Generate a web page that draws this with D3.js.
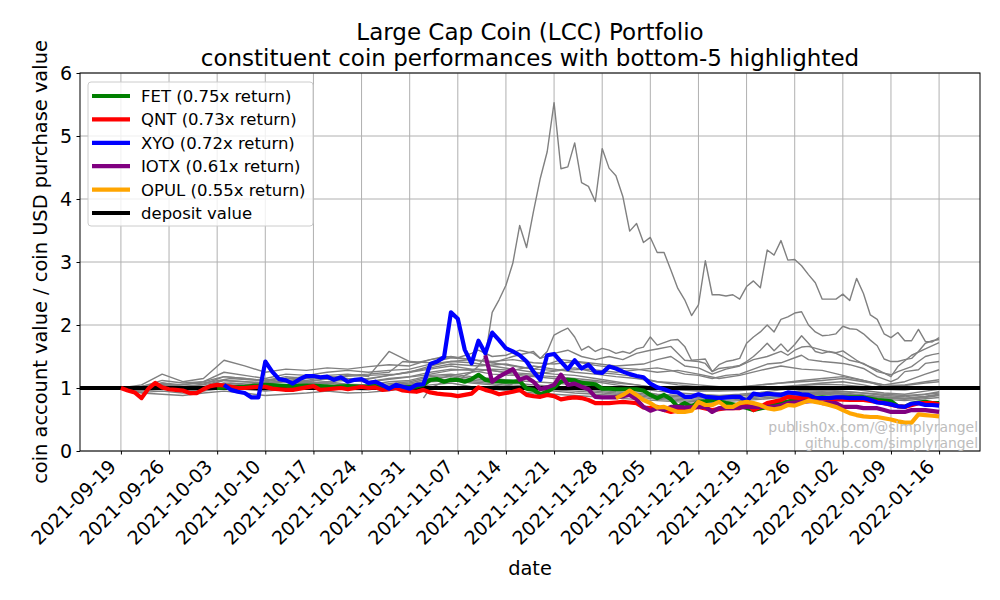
<!DOCTYPE html>
<html>
<head>
<meta charset="utf-8">
<script src="https://cdn.jsdelivr.net/npm/d3@7"></script>
<style>
  body { margin: 0; background: #fff; }
  text { font-family: "DejaVu Sans", sans-serif; }
</style>
</head>
<body>
<script>
// chart data: day offsets from 2021-09-19 and coin value / purchase value
var startDay = "2021-09-19";
var tickLabels = ["2021-09-19", "2021-09-26", "2021-10-03", "2021-10-10", "2021-10-17", "2021-10-24",
  "2021-10-31", "2021-11-07", "2021-11-14", "2021-11-21", "2021-11-28", "2021-12-05", "2021-12-12",
  "2021-12-19", "2021-12-26", "2022-01-02", "2022-01-09", "2022-01-16"];
var yTicks = [0, 1, 2, 3, 4, 5, 6];

var bottomCoins = ["FET", "QNT", "XYO", "IOTX", "OPUL"];
var bottomReturns = [0.75, 0.73, 0.72, 0.61, 0.55];
var bottomColors = ["green", "red", "blue", "purple", "orange"];

var fetValues = [[14,1.0],[16,1.01],[18,1.02],[20,1.04],[21,1.05],[23,1.04],[25,1.03],[27,1.04],[29,1.03],[31,1.02],
  [33,1.03],[35,1.02],[37,1.03],[39,1.0],[41,1.01],[43,1.02],[44,1.05],[45,1.13],[46,1.14],[47,1.1],[48,1.13],[49,1.13],
  [50,1.1],[51,1.14],[52,1.21],[53,1.13],[54,1.11],[55,1.11],[56,1.1],[57,1.1],[58,1.11],[59,0.99],[60,0.97],[61,0.9],
  [62,0.94],[63,1.01],[64,1.1],[65,1.13],[66,1.12],[67,1.08],[68,1.07],[69,1.06],[70,0.99],[71,0.99],[72,0.98],[73,0.98],
  [74,0.98],[75,0.98],[76,0.96],[77,0.89],[78,0.84],[79,0.89],[80,0.82],[81,0.7],[82,0.76],[83,0.7],[84,0.78],[85,0.79],
  [86,0.81],[88,0.76],[90,0.72],[92,0.65],[94,0.7],[96,0.76],[98,0.81],[100,0.84],[102,0.85],[104,0.84],[106,0.85],
  [108,0.85],[110,0.81],[111,0.8],[112,0.79],[113,0.71],[114,0.7],[115,0.75],[116,0.77],[117,0.78],[118,0.76],[119,0.76]];

var qntValues = [[0,1.0],[1,0.96],[2,0.93],[3,0.84],[4,0.99],[5,1.08],[6,1.01],[7,0.98],[8,0.97],[9,0.96],[10,0.92],
  [11,0.92],[12,0.98],[13,1.03],[14,1.05],[15,1.04],[16,1.02],[17,1.0],[18,1.0],[19,1.01],[20,1.02],[21,1.02],[22,0.99],
  [23,0.98],[24,0.97],[25,0.97],[26,0.99],[27,1.01],[28,1.03],[29,0.97],[30,0.98],[31,0.99],[32,1.0],[33,0.98],[34,1.0],
  [35,1.02],[36,1.0],[37,1.01],[38,0.97],[39,0.98],[40,1.0],[41,0.96],[42,0.95],[43,0.94],[44,0.97],[45,0.93],[46,0.91],
  [47,0.9],[48,0.89],[49,0.87],[50,0.89],[51,0.91],[52,1.01],[53,0.97],[54,0.94],[55,0.9],[56,0.92],[57,0.94],[58,0.97],
  [59,0.89],[60,0.87],[61,0.86],[62,0.89],[63,0.87],[64,0.82],[65,0.84],[66,0.85],[67,0.84],[68,0.81],[69,0.76],[70,0.76],
  [71,0.76],[72,0.77],[73,0.78],[74,0.77],[75,0.76],[76,0.69],[77,0.68],[78,0.7],[79,0.65],[80,0.62],[82,0.66],[84,0.7],
  [86,0.65],[88,0.68],[90,0.68],[91,0.76],[92,0.65],[93,0.7],[94,0.76],[96,0.81],[97,0.86],[99,0.84],[100,0.86],[102,0.83],
  [104,0.82],[106,0.81],[108,0.81],[110,0.78],[111,0.76],[113,0.71],[114,0.7],[116,0.76],[118,0.76],[119,0.74]];

var xyoValues = [[15,1.05],[16,0.97],[17,0.94],[18,0.92],[19,0.85],[20,0.85],[21,1.42],[22,1.26],[23,1.14],[24,1.12],
  [25,1.07],[26,1.14],[27,1.19],[28,1.19],[29,1.17],[30,1.18],[31,1.13],[32,1.17],[33,1.1],[34,1.13],[35,1.14],[36,1.08],
  [37,1.1],[38,1.05],[39,0.99],[40,1.05],[41,1.02],[42,0.99],[43,1.05],[44,1.06],[45,1.38],[46,1.42],[47,1.49],[48,2.2],
  [49,2.1],[50,1.61],[51,1.39],[52,1.75],[53,1.55],[54,1.88],[55,1.76],[56,1.63],[57,1.58],[58,1.52],[59,1.42],[60,1.26],
  [61,1.13],[62,1.52],[63,1.54],[64,1.42],[65,1.3],[66,1.44],[67,1.31],[68,1.37],[69,1.25],[70,1.24],[71,1.34],[72,1.31],
  [73,1.26],[74,1.22],[75,1.19],[76,1.17],[77,1.07],[78,1.01],[79,0.98],[80,0.94],[81,0.93],[82,0.86],[83,0.86],[84,0.9],
  [85,0.86],[86,0.85],[87,0.84],[88,0.85],[89,0.86],[90,0.86],[91,0.79],[92,0.91],[93,0.89],[94,0.91],[95,0.9],[96,0.89],
  [97,0.93],[98,0.92],[99,0.9],[100,0.89],[101,0.84],[102,0.84],[103,0.84],[104,0.85],[105,0.85],[106,0.84],[107,0.84],
  [108,0.84],[109,0.81],[110,0.77],[111,0.76],[112,0.74],[113,0.71],[114,0.7],[115,0.75],[116,0.76],[117,0.73],[118,0.73],[119,0.72]];

var iotxValues = [[53,1.52],[54,1.1],[55,1.18],[56,1.24],[57,1.3],[58,1.13],[59,1.17],[60,1.1],[61,0.98],[62,1.01],
  [63,1.05],[64,1.21],[65,1.05],[66,1.07],[67,1.02],[68,0.98],[69,0.86],[70,0.85],[71,0.85],[72,0.85],[73,0.87],[74,0.89],
  [75,0.82],[76,0.7],[77,0.64],[78,0.68],[79,0.65],[80,0.7],[81,0.7],[82,0.69],[84,0.7],[85,0.7],[86,0.62],[87,0.68],
  [89,0.68],[91,0.7],[93,0.7],[95,0.7],[96,0.72],[97,0.76],[99,0.78],[101,0.8],[102,0.76],[104,0.76],[105,0.7],[107,0.7],
  [108,0.68],[110,0.68],[111,0.65],[112,0.62],[114,0.62],[115,0.65],[117,0.65],[119,0.62]];

var opulValues = [[72,0.84],[73,0.89],[74,0.96],[75,0.89],[76,0.81],[77,0.76],[78,0.69],[79,0.7],[80,0.66],[81,0.62],
  [82,0.62],[83,0.64],[84,0.78],[85,0.73],[86,0.73],[87,0.78],[88,0.7],[89,0.7],[90,0.76],[91,0.78],[92,0.76],[93,0.73],
  [94,0.68],[95,0.66],[96,0.68],[97,0.73],[98,0.72],[99,0.76],[100,0.8],[101,0.78],[102,0.76],[103,0.73],[104,0.7],
  [105,0.65],[106,0.6],[107,0.57],[108,0.55],[109,0.54],[110,0.54],[111,0.52],[112,0.5],[113,0.47],[114,0.45],[115,0.45],
  [116,0.58],[117,0.57],[118,0.56],[119,0.55]];

// other constituents drawn in grey
var spikeValues = [[44,0.84],[45,1.0],[46,1.05],[47,1.1],[48,1.15],[49,1.1],[50,1.2],[51,1.25],[52,1.35],[53,1.5],
  [54,2.2],[55,2.4],[56,2.63],[57,2.98],[58,3.58],[59,3.23],[60,3.8],[61,4.33],[62,4.75],[63,5.53],[64,4.48],[65,4.51],
  [66,4.89],[67,4.26],[68,4.2],[69,3.96],[70,4.8],[71,4.49],[72,4.37],[73,4.04],[74,3.49],[75,3.61],[76,3.31],[77,3.39],
  [78,3.15],[79,3.15],[80,2.87],[81,2.58],[82,2.4],[83,2.15],[84,2.32],[85,3.02],[86,2.48],[87,2.48],[88,2.46],[89,2.48],
  [90,2.41],[91,2.61],[92,2.7],[93,2.59],[94,3.19],[95,3.11],[96,3.34],[97,3.03],[98,3.04],[99,2.94],[100,2.8],[101,2.67],
  [102,2.41],[103,2.41],[104,2.41],[105,2.49],[106,2.39],[107,2.74],[108,2.5],[109,2.16],[110,2.09],[111,1.86],[112,1.8],
  [113,1.88],[114,1.75],[115,1.75],[116,1.93],[117,1.74],[118,1.73],[119,1.8]];

var greyA = [[0,1.0],[3,1.03],[6,1.08],[9,1.05],[12,1.1],[15,1.18],[18,1.15],[21,1.12],[24,1.15],[27,1.18],[30,1.16],
  [33,1.2],[36,1.22],[39,1.25],[41,1.42],[43,1.4],[45,1.45],[47,1.5],[49,1.48],[51,1.55],[52,1.6],[54,1.5],[56,1.52],
  [58,1.6],[60,1.55],[61,1.47],[62,1.58],[63,1.84],[64,1.9],[65,1.95],[66,1.81],[67,1.6],[68,1.66],[69,1.58],[70,1.63],
  [71,1.6],[72,1.55],[73,1.58],[74,1.55],[75,1.62],[76,1.65],[77,1.81],[78,1.68],[79,1.72],[80,1.76],[81,1.77],[82,1.66],
  [83,1.44],[84,1.45],[85,1.46],[86,1.26],[87,1.37],[88,1.42],[89,1.44],[90,1.47],[91,1.71],[92,1.81],[93,1.89],[94,2.0],
  [95,1.89],[96,2.09],[97,2.13],[98,2.19],[99,2.21],[100,2.0],[101,1.89],[102,1.83],[103,1.84],[104,1.86],[105,1.98],
  [106,1.94],[107,1.93],[108,1.86],[109,1.76],[110,1.67],[111,1.46],[112,1.42],[113,1.42],[114,1.45],[115,1.47],[116,1.58],
  [117,1.71],[118,1.75],[119,1.77]];

var greyB = [[0,1.0],[3,0.98],[6,1.06],[9,1.02],[12,1.05],[15,1.12],[18,1.1],[21,1.08],[24,1.12],[27,1.1],[30,1.14],
  [33,1.12],[36,1.15],[39,1.2],[42,1.25],[45,1.35],[48,1.42],[51,1.45],[54,1.4],[57,1.5],[60,1.58],[61,1.47],[63,1.55],
  [65,1.6],[67,1.5],[69,1.45],[71,1.5],[73,1.45],[75,1.55],[77,1.6],[78,1.62],[80,1.66],[82,1.44],[84,1.42],[85,1.39],
  [86,1.26],[87,1.31],[89,1.34],[90,1.36],[91,1.42],[92,1.5],[93,1.6],[94,1.71],[95,1.59],[96,1.7],[97,1.58],[98,1.69],
  [99,1.83],[100,1.71],[101,1.58],[102,1.55],[103,1.58],[104,1.56],[105,1.59],[107,1.44],[108,1.38],[110,1.29],[112,1.18],
  [113,1.34],[115,1.52],[117,1.62],[119,1.72]];

var greyC = [[0,1.0],[4,1.02],[8,1.05],[12,1.08],[16,1.15],[20,1.12],[24,1.15],[28,1.16],[32,1.18],[36,1.2],[40,1.22],
  [44,1.3],[48,1.38],[52,1.35],[56,1.38],[60,1.3],[64,1.45],[68,1.4],[72,1.35],[76,1.38],[78,1.45],[80,1.5],[82,1.35],
  [84,1.32],[86,1.22],[88,1.3],[90,1.35],[92,1.45],[94,1.5],[96,1.58],[97,1.52],[98,1.6],[99,1.65],[100,1.66],[102,1.6],
  [104,1.55],[105,1.5],[106,1.44],[108,1.39],[110,1.26],[112,1.21],[113,1.26],[114,1.3],[115,1.34],[116,1.42],[117,1.5],
  [118,1.53],[119,1.55]];

var greyD = [[0,1.0],[4,0.98],[8,1.03],[12,1.02],[16,1.08],[20,1.05],[24,1.1],[28,1.08],[32,1.12],[36,1.1],[40,1.15],
  [44,1.2],[48,1.28],[52,1.3],[56,1.25],[60,1.22],[64,1.28],[68,1.3],[72,1.25],[76,1.3],[78,1.32],[80,1.28],[82,1.22],
  [84,1.2],[86,1.15],[88,1.2],[90,1.22],[92,1.3],[94,1.38],[96,1.4],[98,1.48],[99,1.52],[100,1.45],[102,1.42],[104,1.4],
  [105,1.39],[106,1.37],[108,1.31],[110,1.18],[112,1.1],[113,1.15],[114,1.26],[116,1.29],[117,1.39],[119,1.42]];

// the bundle of coins near deposit value, sampled every 3 days
var bundleDays = [0,3,6,9,12,15,18,21,24,27,30,33,36,39,42,45,48,51,54,57,60,63,66,69,72,75,78,81,84,87,90,93,96,99,102,105,108,111,114,117,119];
var bundleLines = [
  [1.00,1.05,1.22,1.10,1.15,1.44,1.35,1.25,1.30,1.28,1.32,1.30,1.34,1.37,1.35,1.45,1.50,1.45,1.42,1.45,1.40,1.38,1.42,1.36,1.32,1.30,1.25,1.28,1.22,1.15,1.20,1.28,1.35,1.30,1.28,1.20,1.12,1.05,1.10,1.22,1.29],
  [1.00,1.00,1.08,1.02,1.06,1.18,1.15,1.12,1.18,1.15,1.20,1.22,1.18,1.58,1.42,1.40,1.48,1.45,1.40,1.35,1.30,1.28,1.32,1.25,1.22,1.18,1.10,1.08,1.05,1.02,1.00,1.05,1.08,1.12,1.15,1.18,1.12,1.02,1.05,1.10,1.13],
  [1.00,0.98,1.05,1.00,1.02,1.12,1.10,1.08,1.12,1.10,1.15,1.12,1.10,1.15,1.18,1.25,1.30,1.28,1.22,1.20,1.18,1.15,1.12,1.10,1.05,1.00,0.95,0.92,0.90,0.88,0.90,0.93,0.97,1.00,1.02,1.00,0.96,0.92,0.90,0.95,0.98],
  [1.00,0.97,1.00,0.97,1.00,1.08,1.05,1.02,1.05,1.08,1.10,1.06,1.05,1.10,1.12,1.20,1.22,1.18,1.15,1.12,1.10,1.08,1.05,1.02,0.98,0.95,0.90,0.88,0.85,0.85,0.88,0.90,0.92,0.95,0.96,0.94,0.92,0.88,0.86,0.90,0.92],
  [1.00,0.95,0.98,0.95,0.97,1.04,1.02,0.98,1.02,1.03,1.05,1.02,1.00,1.05,1.08,1.15,1.18,1.12,1.10,1.05,1.02,1.00,0.98,0.95,0.92,0.90,0.86,0.84,0.82,0.83,0.85,0.87,0.90,0.93,0.94,0.92,0.89,0.86,0.84,0.87,0.90],
  [1.00,0.93,0.95,0.92,0.95,1.00,0.98,0.95,0.98,1.00,1.02,0.98,0.97,1.02,1.05,1.10,1.12,1.08,1.05,1.00,0.98,0.95,0.92,0.90,0.88,0.86,0.82,0.80,0.78,0.80,0.82,0.84,0.87,0.90,0.92,0.90,0.86,0.84,0.82,0.85,0.88],
  [1.00,0.92,0.90,0.88,0.92,0.95,0.92,0.88,0.90,0.92,0.95,0.92,0.93,0.96,1.00,1.05,1.08,1.02,0.98,0.95,0.92,0.90,0.88,0.86,0.84,0.82,0.80,0.78,0.75,0.78,0.80,0.82,0.85,0.88,0.90,0.88,0.85,0.82,0.80,0.83,0.85],
  [null,null,null,null,null,1.00,1.05,1.10,1.15,1.12,1.18,1.15,1.14,1.20,1.25,1.30,1.35,1.30,1.28,1.22,1.20,1.18,1.15,1.12,1.08,1.05,1.00,0.98,0.96,0.95,0.96,0.98,1.00,1.04,1.06,1.05,1.02,0.98,0.97,1.00,1.02],
  [1.00,1.02,1.12,1.08,1.10,1.25,1.20,1.15,1.22,1.20,1.25,1.28,1.25,1.28,1.30,1.38,1.42,1.40,1.35,1.30,1.25,1.22,1.20,1.15,1.10,1.05,1.00,0.97,0.95,0.96,0.98,1.00,1.02,1.05,1.08,1.10,1.05,0.98,0.97,1.00,1.02],
  [1.00,0.99,1.02,0.99,1.00,1.06,1.03,1.00,1.04,1.06,1.08,1.04,1.03,1.07,1.10,1.18,1.20,1.15,1.12,1.08,1.05,1.03,1.00,0.97,0.94,0.92,0.88,0.86,0.84,0.86,0.88,0.90,0.92,0.96,0.97,0.95,0.92,0.90,0.88,0.90,0.94],
  [null,null,null,null,null,null,null,null,null,null,null,null,null,null,1.00,1.10,1.20,1.25,1.30,1.28,1.35,1.30,1.25,1.22,1.18,1.15,1.10,1.05,1.02,1.00,1.02,1.05,1.08,1.10,1.12,1.15,1.10,1.05,1.04,1.08,1.10],
  [1.00,0.96,1.00,0.96,0.98,1.02,1.00,0.96,1.00,1.01,1.03,1.00,0.99,1.03,1.06,1.12,1.14,1.10,1.07,1.03,1.00,0.97,0.95,0.93,0.90,0.88,0.84,0.82,0.80,0.82,0.84,0.86,0.89,0.92,0.93,0.91,0.88,0.85,0.83,0.86,0.89]
];

var svgWidth = 1000;
var svgHeight = 600;
var margin = { top: 73, right: 20, bottom: 149, left: 80 };
var chartWidth = svgWidth - margin.left - margin.right;
var chartHeight = svgHeight - margin.top - margin.bottom;

var svg = d3.select("body").append("svg")
  .attr("width", svgWidth)
  .attr("height", svgHeight);

var chartGroup = svg.append("g")
  .attr("transform", `translate(${margin.left}, ${margin.top})`);

var parseDay = d3.timeParse("%Y-%m-%d");
var day0 = parseDay(startDay);
var toDate = d => d3.timeDay.offset(day0, d);
var tickDates = tickLabels.map(parseDay);

// matplotlib style 5% padding on the date range
var pad = 0.05 * 119 * 864e5;
var xScale = d3.scaleTime()
  .domain([new Date(+toDate(0) - pad), new Date(+toDate(119) + pad)])
  .range([0, chartWidth]);
var yScale = d3.scaleLinear().domain([0, 6]).range([chartHeight, 0]);

// grid
chartGroup.append("g").selectAll("line").data(tickDates).enter().append("line")
  .attr("x1", d => xScale(d)).attr("x2", d => xScale(d))
  .attr("y1", 0).attr("y2", chartHeight)
  .attr("stroke", "#b0b0b0").attr("stroke-width", 1);
chartGroup.append("g").selectAll("line").data(yTicks).enter().append("line")
  .attr("x1", 0).attr("x2", chartWidth)
  .attr("y1", d => yScale(d)).attr("y2", d => yScale(d))
  .attr("stroke", "#b0b0b0").attr("stroke-width", 1);

var line = d3.line()
  .defined(d => d[1] != null)
  .x(d => xScale(toDate(d[0])))
  .y(d => yScale(d[1]));

// grey constituents
var greySeries = [spikeValues, greyA, greyB, greyC, greyD]
  .concat(bundleLines.map(vals => bundleDays.map((d, i) => [d, vals[i]])));

chartGroup.append("g").selectAll("path").data(greySeries).enter().append("path")
  .attr("d", line)
  .attr("fill", "none")
  .attr("stroke", "gray")
  .attr("stroke-width", 1.4)
  .attr("stroke-linejoin", "round");

// deposit value
chartGroup.append("line")
  .attr("x1", 0).attr("x2", chartWidth)
  .attr("y1", yScale(1)).attr("y2", yScale(1))
  .attr("stroke", "black").attr("stroke-width", 4.2);

// bottom-5 coins
var bottomSeries = [fetValues, qntValues, xyoValues, iotxValues, opulValues];
chartGroup.append("g").selectAll("path").data(bottomSeries).enter().append("path")
  .attr("d", line)
  .attr("fill", "none")
  .attr("stroke", (d, i) => bottomColors[i])
  .attr("stroke-width", 4.2)
  .attr("stroke-linejoin", "round");

// frame
chartGroup.append("rect")
  .attr("width", chartWidth).attr("height", chartHeight)
  .attr("fill", "none").attr("stroke", "black").attr("stroke-width", 1);

// axes
var bottomAxis = d3.axisBottom(xScale)
  .tickValues(tickDates)
  .tickFormat(d3.timeFormat("%Y-%m-%d"))
  .tickSizeInner(3.5).tickSizeOuter(0);
var leftAxis = d3.axisLeft(yScale)
  .tickValues(yTicks)
  .tickFormat(d3.format("d"))
  .tickSizeInner(3.5).tickSizeOuter(0);

var xAxisG = chartGroup.append("g")
  .attr("transform", `translate(0, ${chartHeight})`)
  .call(bottomAxis);
xAxisG.select(".domain").remove();
xAxisG.selectAll("line").attr("stroke", "black");
xAxisG.selectAll("text")
  .attr("font-size", 19)
  .attr("font-family", "DejaVu Sans")
  .attr("fill", "black")
  .attr("text-anchor", "end")
  .attr("y", 0).attr("dy", 0)
  .attr("transform", "translate(-4, 17) rotate(-45)");

var yAxisG = chartGroup.append("g").call(leftAxis);
yAxisG.select(".domain").remove();
yAxisG.selectAll("line").attr("stroke", "black");
yAxisG.selectAll("text")
  .attr("font-size", 19)
  .attr("font-family", "DejaVu Sans")
  .attr("fill", "black")
  .attr("x", -8);

// titles and labels
svg.append("text").attr("x", 530).attr("y", 39.5).attr("text-anchor", "middle")
  .attr("font-size", 23).text("Large Cap Coin (LCC) Portfolio");
svg.append("text").attr("x", 530).attr("y", 65.5).attr("text-anchor", "middle")
  .attr("font-size", 23).text("constituent coin performances with bottom-5 highlighted");
svg.append("text").attr("x", 530).attr("y", 575).attr("text-anchor", "middle")
  .attr("font-size", 19.4).text("date");
svg.append("text").attr("transform", "translate(47, 262) rotate(-90)").attr("text-anchor", "middle")
  .attr("font-size", 19.4).text("coin account value / coin USD purchase value");

// watermark
svg.append("text").attr("x", 978).attr("y", 432).attr("text-anchor", "end")
  .attr("font-size", 13.9).attr("fill", "#bdbdbd").text("publish0x.com/@simplyrangel");
svg.append("text").attr("x", 978).attr("y", 448).attr("text-anchor", "end")
  .attr("font-size", 13.9).attr("fill", "#bdbdbd").text("github.com/simplyrangel");

// legend
var legendLabels = bottomCoins.map((c, i) => `${c} (${bottomReturns[i].toFixed(2)}x return)`).concat(["deposit value"]);
var legendColors = bottomColors.concat(["black"]);
var legend = svg.append("g").attr("transform", "translate(88, 82)");
legend.append("rect")
  .attr("width", 225).attr("height", 144).attr("rx", 3)
  .attr("fill", "white").attr("fill-opacity", 0.8)
  .attr("stroke", "#cccccc").attr("stroke-width", 1);
var rows = legend.selectAll(".row").data(legendLabels).enter().append("g")
  .attr("class", "row")
  .attr("transform", (d, i) => `translate(0, ${14 + i * 23.4})`);
rows.append("line")
  .attr("x1", 4).attr("x2", 42)
  .attr("stroke", (d, i) => legendColors[i]).attr("stroke-width", 4.2);
rows.append("text")
  .attr("x", 53).attr("dy", "0.36em")
  .attr("font-size", 16.5)
  .text(d => d);
</script>
</body>
</html>
